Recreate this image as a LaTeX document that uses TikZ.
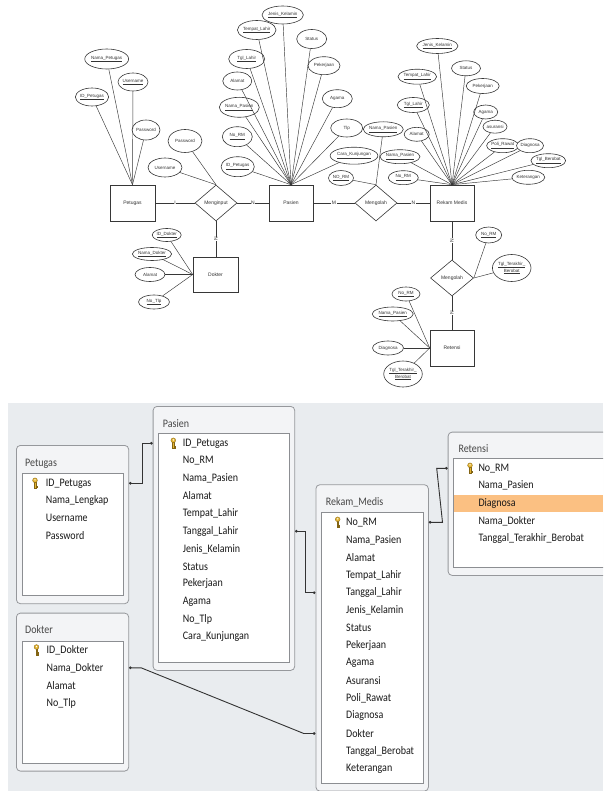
\documentclass[tikz,border=0pt]{standalone}
\usepackage{fontspec}
\setmainfont{Carlito}[FakeStretch=0.87]
\newfontfamily\erfont{Liberation Sans}
\usetikzlibrary{shapes.geometric,arrows.meta}
\definecolor{panel}{RGB}{233,236,239}
\definecolor{boxfill}{RGB}{243,244,246}
\definecolor{boxline}{RGB}{150,152,156}
\definecolor{inline}{RGB}{140,142,146}
\definecolor{selrow}{RGB}{251,192,130}
\definecolor{keygold}{RGB}{228,180,50}
\definecolor{keydark}{RGB}{130,100,20}
\definecolor{erline}{RGB}{55,55,55}
\newcommand\undl[1]{\underline{#1}}
\newcommand\erattr[6]{\node[attr, minimum width=#4, minimum height=#5] (#1) at (#2,#3) {#6};}
\begin{document}
\begin{tikzpicture}[x=1pt,y=-1pt,
  attr/.style={ellipse, draw=erline, line width=0.6pt, inner sep=0pt, align=center, fill=white, text=black!80,
     font=\erfont\fontsize{4.5}{5}\selectfont},
  ent/.style={rectangle, draw=erline, line width=0.6pt, inner sep=0pt, fill=white, text=black!80,
     font=\erfont\fontsize{5}{6}\selectfont},
  rel/.style={diamond, draw=erline, line width=0.6pt, inner sep=0pt, fill=white, text=black!80,
     font=\erfont\fontsize{5}{6}\selectfont},
  er/.style={draw=erline, line width=0.45pt},
  card/.style={fill=white, inner sep=0.6pt, text=black!80, font=\erfont\fontsize{5}{6}\selectfont},
  obox/.style={rectangle, rounded corners=4pt, draw=boxline, line width=0.8pt, fill=boxfill, anchor=north west, inner sep=0pt},
  ibox/.style={rectangle, draw=inline, line width=0.7pt, fill=white, anchor=north west, inner sep=0pt},
  ttl/.style={anchor=west, inner sep=0pt, text=black!72, font=\fontsize{11.5}{13}\selectfont},
  row/.style={anchor=west, inner sep=0pt, text=black!90, font=\fontsize{11.5}{13}\selectfont},
  conn/.style={draw=black!80, line width=0.9pt, {Circle[length=2.6pt]}-{Circle[length=2.6pt]}},
  keyic/.pic={
    \filldraw[fill=keygold, draw=keydark, line width=0.3pt] (-0.75,-1.2) rectangle (0.75,5.2);
    \filldraw[fill=keygold, draw=keydark, line width=0.3pt] (0.75,2.4) rectangle (1.9,3.4);
    \filldraw[fill=keygold, draw=keydark, line width=0.3pt] (0.75,4.0) rectangle (1.6,5.0);
    \filldraw[fill=keygold, draw=keydark, line width=0.3pt] (0,-3) circle[radius=2.4];
    \fill[white] (0,-3.4) circle[radius=0.8];
  }
]
\path[use as bounding box] (0,0) rectangle (603,791);
\clip (0,0) rectangle (603,791);
\fill[white] (0,0) rectangle (603,791);

% ================= ER diagram =================
\node[ent, minimum width=45, minimum height=36] (Petugas) at (132.5,203) {Petugas};
\node[ent, minimum width=44, minimum height=36] (Pasien) at (291,203) {Pasien};
\node[ent, minimum width=44, minimum height=36] (RekamMedis) at (452,203) {Rekam Medis};
\node[ent, minimum width=45, minimum height=35] (Dokter) at (215.5,274.5) {Dokter};
\node[ent, minimum width=44, minimum height=36] (Retensi) at (452,348) {Retensi};

\node[rel, minimum width=42, minimum height=36] (Menginput) at (216,203) {Menginput};
\node[rel, minimum width=42, minimum height=36] (MengolahA) at (376,203) {Mengolah};
\node[rel, minimum width=43, minimum height=36] (MengolahB) at (452,278) {Mengolah};

\draw[er] (Petugas.east) -- node[card]{I} (Menginput.west);
\draw[er] (Menginput.east) -- node[card]{N} (Pasien.west);
\draw[er] (Pasien.east) -- node[card]{M} (MengolahA.west);
\draw[er] (MengolahA.east) -- node[card]{N} (RekamMedis.west);
\draw[er] (Menginput.south) -- node[card, rotate=90]{N} (Menginput.south |- Dokter.north);
\draw[er] (RekamMedis.south) -- node[card, rotate=90]{N} (MengolahB.north);
\draw[er] (MengolahB.south) -- node[card, rotate=90]{N} (Retensi.north);

% Petugas attributes
\erattr{tNama}{106.7}{59}{38}{20}{\undl{Nama\_Petugas}}
\erattr{tUser}{133}{82}{30}{18}{\undl{Username}}
\erattr{tID}{92}{97}{30}{18}{\undl{ID\_Petugas}}
\erattr{tPass}{146}{130}{26}{20}{Password}
\foreach \a in {tNama,tUser,tID,tPass} \draw[er] (Petugas.north) -- (\a);

% Menginput attributes
\erattr{mPass}{185}{141}{34}{23}{Password}
\erattr{mUser}{165}{167.5}{34}{19}{Username}
\foreach \a in {mPass,mUser} \draw[er] (Menginput.north) -- (\a);

% Pasien attributes
\erattr{pJK}{282.7}{15}{35}{18}{\undl{Jenis\_Kelamin}}
\erattr{pTL}{256.7}{30}{35}{19}{\undl{Tempat\_Lahir}}
\erattr{pSt}{311.7}{39}{30}{19}{Status}
\erattr{pTg}{246.7}{59}{36}{19}{\undl{Tgl\_Lahir}}
\erattr{pPk}{324}{65.7}{32}{18}{Pekerjaan}
\erattr{pAl}{237.3}{81}{29}{18}{Alamat}
\erattr{pAg}{337.3}{98.7}{30}{18}{Agama}
\erattr{pNP}{239.3}{107.3}{34}{20}{\undl{Nama\_Pasien}}
\erattr{pTlp}{346.7}{128}{32}{18}{Tlp}
\erattr{pNR}{237.3}{136.7}{30}{20}{\undl{No\_RM}}
\erattr{pCK}{354}{155.7}{42}{17}{\undl{Cara\_Kunjungan}}
\erattr{pIP}{237.7}{166.7}{31}{20}{\undl{ID\_Petugas}}
\foreach \a in {pJK,pTL,pSt,pTg,pPk,pAl,pAg,pNP,pTlp,pNR,pCK,pIP} \draw[er] (Pasien.north) -- (\a);

% Mengolah (1) attributes
\erattr{aNP}{383.3}{129.3}{34}{15}{\undl{Nama\_Pasien}}
\erattr{aNR}{341}{178}{25}{15}{\undl{NO\_RM}}
\foreach \a in {aNP,aNR} \draw[er] (MengolahA.north) -- (\a);

% Rekam Medis attributes
\erattr{rJK}{437.3}{46}{38}{15}{\undl{Jenis\_Kelamin}}
\erattr{rSt}{466}{68.3}{29}{15}{Status}
\erattr{rTL}{417.3}{76.7}{33}{15}{\undl{Tempat\_Lahir}}
\erattr{rPk}{482.7}{86}{33}{15}{Pekerjaan}
\erattr{rTg}{413.3}{105}{32}{15}{\undl{Tgl\_Lahir}}
\erattr{rAg}{485.7}{112}{24}{14}{Agama}
\erattr{rAl}{416.7}{134.3}{25}{14}{Alamat}
\erattr{rAs}{495}{126.7}{24}{13}{asuransi}
\erattr{rNP}{400}{156.7}{33}{14}{\undl{Nama\_Pasien}}
\erattr{rPR}{502.7}{145.7}{29}{14}{\undl{Poli\_Rawat}}
\erattr{rDg}{530}{145.7}{27}{14}{Diagnosa}
\erattr{rTB}{548.3}{160.7}{33}{14}{\undl{Tgl\_Berobat}}
\erattr{rNR}{403.3}{177.7}{30}{14}{\undl{No\_RM}}
\erattr{rKt}{528.3}{177.3}{30}{14}{Keterangan}
\foreach \a in {rJK,rSt,rTL,rPk,rTg,rAg,rAl,rAs,rNP,rPR,rDg,rTB,rNR,rKt} \draw[er] (RekamMedis.north) -- (\a);

% Dokter attributes
\erattr{dID}{166.7}{235}{29}{13}{\undl{ID\_Dokter}}
\erattr{dNm}{152}{254}{35}{13}{\undl{Nama\_Dokter}}
\erattr{dAl}{150}{274.5}{30}{14}{Alamat}
\erattr{dTl}{154}{302}{31}{14}{\undl{No\_Tlp}}
\foreach \a in {dID,dNm,dAl,dTl} \draw[er] (Dokter.west) -- (\a);

% Mengolah (2) attributes
\erattr{bNR}{488.7}{235}{26}{16}{\undl{No\_RM}}
\erattr{bTT}{511.7}{268}{34}{27}{\undl{Tgl\_Terakhir\_}\\\undl{Berobat}}
\foreach \a in {bNR,bTT} \draw[er] (MengolahB.east) -- (\a);

% Retensi attributes
\erattr{eNR}{406}{294}{28}{14}{\undl{No\_RM}}
\erattr{eNP}{392.7}{314}{41}{14}{\undl{Nama\_Pasien}}
\erattr{eDg}{388}{348}{31}{14}{Diagnosa}
\erattr{eTT}{403}{374}{33}{26}{\undl{Tgl\_Terakhir\_}\\\undl{Berobat}}
\foreach \a in {eNR,eNP,eDg,eTT} \draw[er] (Retensi.west) -- (\a);

% ================= Relationship tables =================
\fill[panel] (7.5,403.3) rectangle (603,791);

% Petugas
\node[obox, minimum width=112.3, minimum height=158.3] (petbox) at (16,445) {};
\node[ibox, minimum width=101.6, minimum height=122.3] (petin) at (21.7,472.7) {};
\node[ttl] (petttl) at (25,463.3) {Petugas};
\foreach \t [count=\i] in {ID\_Petugas,Nama\_Lengkap,Username,Password}
  \node[row] (pet-\i) at (45.7,{483.3+17.3*(\i-1)}) {\t};
\pic at (35,483.3) {keyic};

% Pasien
\node[obox, minimum width=141.6, minimum height=264] (pasbox) at (152.7,406) {};
\node[ibox, minimum width=131, minimum height=229] (pasin) at (158.3,432.7) {};
\node[ttl] (pasttl) at (162.7,423.3) {Pasien};
\foreach \t [count=\i] in {ID\_Petugas,No\_RM,Nama\_Pasien,Alamat,Tempat\_Lahir,Tanggal\_Lahir,Jenis\_Kelamin,Status,Pekerjaan,Agama,No\_Tlp,Cara\_Kunjungan}
  \node[row] (pas-\i) at (182.7,{443.3+17.58*(\i-1)}) {\t};
\pic at (173.3,443.3) {keyic};

% Dokter
\node[obox, minimum width=112.3, minimum height=158] (dokbox) at (16,612.7) {};
\node[ibox, minimum width=101.6, minimum height=122] (dokin) at (21.7,640.7) {};
\node[ttl] (dokttl) at (25,630) {Dokter};
\foreach \t [count=\i] in {ID\_Dokter,Nama\_Dokter,Alamat,No\_Tlp}
  \node[row] (dok-\i) at (46.5,{650+17.8*(\i-1)}) {\t};
\pic at (36.5,650) {keyic};

% Rekam_Medis
\node[obox, minimum width=112.5, minimum height=306.4] (rmbox) at (315.5,484.3) {};
\node[ibox, minimum width=101.8, minimum height=270.4] (rmin) at (320.7,512.3) {};
\node[ttl] (rmttl) at (325.7,502.7) {Rekam\_Medis};
\foreach \t [count=\i] in {No\_RM,Nama\_Pasien,Alamat,Tempat\_Lahir,Tanggal\_Lahir,Jenis\_Kelamin,Status,Pekerjaan,Agama,Asuransi,Poli\_Rawat,Diagnosa,Dokter,Tanggal\_Berobat,Keterangan}
  \node[row] (rm-\i) at (346,{522.3+17.6*(\i-1)}) {\t};
\pic at (337.7,522.3) {keyic};

% Retensi
\node[obox, minimum width=167.3, minimum height=143.3] (retbox) at (447.7,431.7) {};
\node[ibox, minimum width=161.7, minimum height=108.4] (retin) at (453.3,458.3) {};
\fill[selrow] (453.8,495) rectangle (603,511.7);
\node[ttl] (retttl) at (458.3,448.3) {Retensi};
\foreach \t [count=\i] in {No\_RM,Nama\_Pasien,Diagnosa,Nama\_Dokter,Tanggal\_Terakhir\_Berobat}
  \node[row] (ret-\i) at (478.3,{468.3+17.5*(\i-1)}) {\t};
\pic at (470,468.3) {keyic};

% Connectors
\coordinate (c3m) at (436.7,468.3);
\coordinate (c4m) at (303.8,733.5);
\draw[conn] (petbox.east |- pet-1) -- ++(13.4,0) |- (pasbox.west |- pas-1);
\draw[conn] (pasbox.east |- pas-6) -- ++(10.7,0) |- (rmbox.west |- rm-5);
\draw[conn] (rmbox.east |- rm-1) -- ++(13.7,0) -- (c3m) -- (retbox.west |- ret-1);
\draw[conn] (dokbox.east |- dok-2) -- ++(12,0) -- (c4m) -- (rmbox.west |- rm-13);
\end{tikzpicture}
\end{document}
